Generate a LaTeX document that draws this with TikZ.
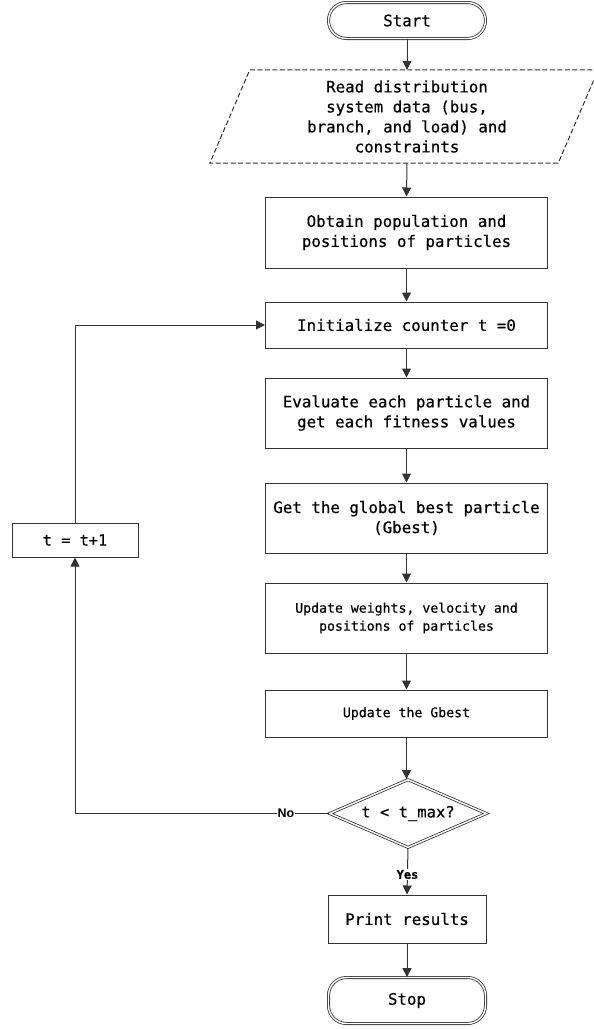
\documentclass[tikz,border=0pt]{standalone}
\usepackage{fontspec}
\setmainfont{DejaVu Sans Mono}[FakeBold=0.5]
\newfontfamily\lblfont{Liberation Sans}
\usetikzlibrary{shapes.geometric,arrows.meta}
\definecolor{ln}{HTML}{333333}
\begin{document}
\begin{tikzpicture}[x=1pt,y=-1pt,
  box/.style={draw=ln, line width=1pt, rectangle, minimum width=282pt, inner sep=0pt, align=center, font=\fontsize{15.8}{20}\selectfont},
  smallbox/.style={box, font=\fontsize{13.2}{18}\selectfont},
  term/.style={draw=ln, double=white, double distance=1.4pt, line width=0.8pt, rounded corners=18pt, minimum width=157pt, inner sep=0pt, font=\fontsize{15.8}{20}\selectfont},
  arr/.style={draw=ln, line width=1pt, -{Triangle[width=9pt,length=9pt]}},
  lbl/.style={fill=white, inner sep=1pt, font=\fontsize{12}{14}\selectfont\bfseries}
]
\useasboundingbox (0,0) rectangle (594,1029);

\node[term, minimum height=36pt] (start) at (407,20.5) {Start};

\node[rectangle, minimum width=348pt, minimum height=93pt, inner sep=0pt, align=center, font=\fontsize{15.8}{20}\selectfont] (read) at (404,116.5) {\hspace*{6pt}Read distribution\\\hspace*{6pt}system data (bus,\\\hspace*{6pt}branch, and load) and\\\hspace*{6pt}constraints};
\draw[draw=ln, line width=1pt, dash pattern=on 5pt off 2.5pt] ([xshift=20pt]read.north west) -- ([xshift=20pt]read.north east) -- ([xshift=-20pt]read.south east) -- ([xshift=-20pt]read.south west) -- cycle;

\node[box, minimum height=71pt] (pop) at (406.5,232.5) {Obtain population and\\positions of particles};
\node[box, minimum height=46pt] (init) at (406.5,325) {Initialize counter t =0};
\node[box, minimum height=70pt] (eval) at (406.5,413) {Evaluate each particle and\\get each fitness values};
\node[box, minimum height=70pt] (gbest) at (406.5,518) {Get the global best particle\\(Gbest)};
\node[smallbox, minimum height=70pt] (upd) at (406.5,618) {Update weights, velocity and\\positions of particles};
\node[smallbox, minimum height=47pt] (updg) at (406.5,713.5) {Update the Gbest};

\node[diamond, draw=ln, double=white, double distance=1.4pt, line width=0.8pt, aspect=2.25, minimum width=157pt, minimum height=68pt, inner sep=0pt] (dec) at (408,813.5) {};
\node[font=\fontsize{15.5}{20}\selectfont] (dectxt) at (408,813.5) {t < t\_max?};

\node[box, minimum width=158pt, minimum height=48pt] (print) at (407,919) {Print results};
\node[term, minimum height=46pt] (stop) at (407,1000.5) {Stop};

\node[draw=ln, line width=1pt, rectangle, minimum width=126pt, minimum height=34pt, inner sep=0pt, font=\fontsize{15.3}{20}\selectfont] (inc) at (75,540) {\raisebox{-5pt}{t = t+1}};

\coordinate (corner) at (75,813.5);

\draw[arr] (start.south) -- (start.south |- read.north);
\draw[arr] (start.south |- read.south) -- (pop.north);
\draw[arr] (pop.south) -- (init.north);
\draw[arr] (init.south) -- (eval.north);
\draw[arr] (eval.south) -- (gbest.north);
\draw[arr] (gbest.south) -- (upd.north);
\draw[arr] (upd.south) -- (updg.north);
\draw[arr] (updg.south) -- (updg.south |- dec.north);
\draw[arr] (dec.south) -- node[lbl, pos=0.57] {Yes} (print.north);
\draw[arr] (print.south) -- (stop.north);
\draw[arr] (dec.west) -- node[lbl, pos=0.17, font=\lblfont\fontsize{12.5}{14}\selectfont\bfseries] {No} (corner) -- (inc.south);
\draw[arr] (inc.north) -- (inc.north |- init.west) -- (init.west);
\end{tikzpicture}
\end{document}
